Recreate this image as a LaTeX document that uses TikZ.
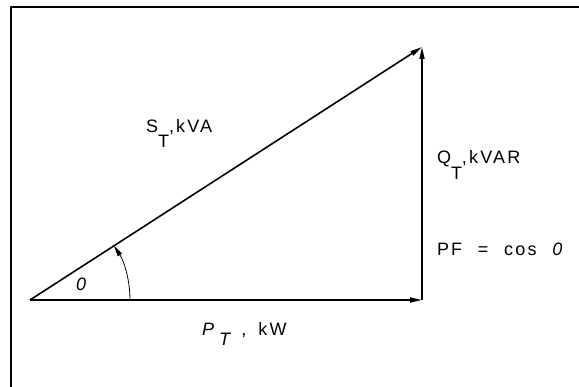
\documentclass[tikz,border=0pt]{standalone}
\usepackage{fontspec}
\setmainfont{Liberation Sans}[LetterSpace=12,WordSpace=2.2]
\usetikzlibrary{arrows.meta}
\newcommand{\lowT}[2]{\raisebox{-#1}{#2}}
\begin{document}
\begin{tikzpicture}[x=1pt,y=-1pt,line join=round,font=\fontsize{18}{20}\selectfont,>={Triangle[length=12pt,width=5pt]}]
                \def\rr{100}
                \tikzset{l/.style={anchor=base west,inner sep=0pt,outer sep=0pt},
                         v/.style={line width=1.6pt}}
                \useasboundingbox (0,0) rectangle (579,387);
                \draw[line width=2pt] (11,387)--(11,7)--(579,7);

                \path(30,300)coordinate(O) (422,300)coordinate(P) (422,47)coordinate(A);
                \foreach \x/\y in {O/P,O/A,P/A}{
                    \draw[v,->] (\x)--(\y);	}
                \draw[line width=0.8pt,->,>={Triangle[length=11pt,width=5pt]}] (O)++(\rr,0)node(r){} arc[start angle=0,end angle=-32.84,radius=\rr];

                \path
                (146,133)node[l](ST){S\lowT{15pt}{T},kVA}
                (437,164)node[l](QT){Q\lowT{16pt}{T},kVAR}
                (437,256)node[l](PF){PF = cos \textit{0}}
                (76,291)node[l](th){\textit{0}}
                (202,336)node[l](PT){\textit{P}\hspace{3pt}\lowT{10pt}{\textit{T}}\hspace{8pt},\hspace{12pt}kW}
                ;
            \end{tikzpicture}
\end{document}
